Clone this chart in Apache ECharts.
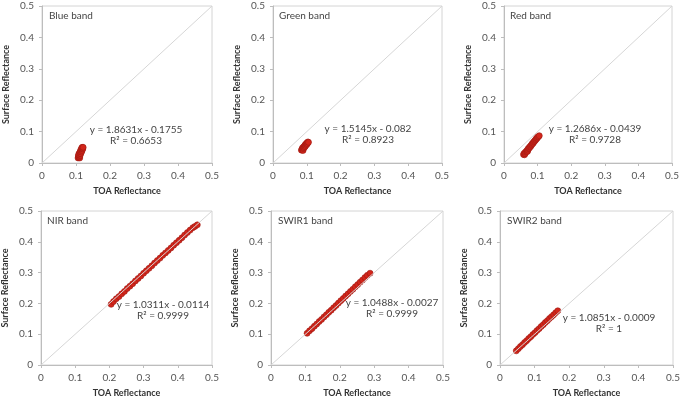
<!DOCTYPE html>
<html>
<head>
<meta charset="utf-8">
<script src="https://cdn.jsdelivr.net/npm/echarts@6/dist/echarts.min.js"></script>
<style>
  html, body { margin: 0; padding: 0; background: #fff; }
  #chart { width: 683px; height: 399px; }
</style>
</head>
<body>
<div id="chart"></div>
<script>
// panel names, regression text, and the points
const bands = ['Blue band', 'Green band', 'Red band', 'NIR band', 'SWIR1 band', 'SWIR2 band'];
const equations = ['y = 1.8631x - 0.1755', 'y = 1.5145x - 0.082', 'y = 1.2686x - 0.0439',
  'y = 1.0311x - 0.0114', 'y = 1.0488x - 0.0027', 'y = 1.0851x - 0.0009'];
const rSquared = ['R² = 0.6653', 'R² = 0.8923', 'R² = 0.9728', 'R² = 0.9999', 'R² = 0.9999', 'R² = 1'];
const oneToOne = [[0, 0], [0.5, 0.5]];

const bluePts = [[0.106, 0.016], [0.108, 0.018], [0.111, 0.016], [0.107, 0.022], [0.110, 0.020],
  [0.109, 0.025], [0.111, 0.028], [0.112, 0.024], [0.108, 0.028], [0.110, 0.031], [0.113, 0.033],
  [0.114, 0.030], [0.112, 0.036], [0.115, 0.038], [0.116, 0.035], [0.114, 0.041], [0.117, 0.043],
  [0.118, 0.040], [0.116, 0.046], [0.119, 0.048], [0.120, 0.045], [0.118, 0.050], [0.121, 0.050]];
const greenPts = [[0.084, 0.041], [0.086, 0.044], [0.088, 0.042], [0.089, 0.040], [0.087, 0.048],
  [0.090, 0.046], [0.090, 0.051], [0.092, 0.049], [0.093, 0.054], [0.095, 0.052], [0.095, 0.058],
  [0.097, 0.056], [0.098, 0.061], [0.100, 0.059], [0.100, 0.064], [0.102, 0.062], [0.103, 0.067],
  [0.105, 0.066]];
const redPts = [[0.058, 0.027], [0.061, 0.026], [0.060, 0.031], [0.063, 0.030], [0.064, 0.035],
  [0.067, 0.036], [0.068, 0.040], [0.070, 0.037], [0.071, 0.041], [0.072, 0.046], [0.075, 0.047],
  [0.076, 0.051], [0.079, 0.052], [0.080, 0.056], [0.083, 0.058], [0.084, 0.062], [0.087, 0.063],
  [0.088, 0.067], [0.091, 0.069], [0.092, 0.072], [0.095, 0.074], [0.096, 0.078], [0.099, 0.079],
  [0.100, 0.083], [0.103, 0.084], [0.105, 0.087]];
const nirPts = [[0.205, 0.197], [0.212, 0.206], [0.220, 0.215], [0.228, 0.222], [0.236, 0.231],
  [0.244, 0.239], [0.252, 0.248], [0.260, 0.256], [0.268, 0.264], [0.276, 0.273], [0.284, 0.281],
  [0.292, 0.289], [0.300, 0.298], [0.308, 0.306], [0.316, 0.314], [0.324, 0.322], [0.332, 0.331],
  [0.340, 0.339], [0.348, 0.347], [0.356, 0.356], [0.364, 0.364], [0.372, 0.372], [0.380, 0.380],
  [0.388, 0.389], [0.396, 0.397], [0.404, 0.405], [0.412, 0.413], [0.420, 0.422], [0.428, 0.430],
  [0.436, 0.438], [0.444, 0.446], [0.450, 0.450], [0.457, 0.455]];
const swir1Pts = [[0.105, 0.103], [0.112, 0.111], [0.119, 0.118], [0.126, 0.126], [0.133, 0.133],
  [0.140, 0.141], [0.147, 0.148], [0.154, 0.156], [0.161, 0.163], [0.168, 0.171], [0.175, 0.178],
  [0.182, 0.186], [0.189, 0.193], [0.196, 0.201], [0.203, 0.209], [0.210, 0.216], [0.217, 0.224],
  [0.224, 0.231], [0.231, 0.239], [0.238, 0.246], [0.245, 0.254], [0.252, 0.261], [0.259, 0.269],
  [0.266, 0.276], [0.273, 0.284], [0.280, 0.291], [0.288, 0.298]];
const swir2Pts = [[0.047, 0.046], [0.053, 0.053], [0.059, 0.060], [0.065, 0.066], [0.071, 0.073],
  [0.077, 0.079], [0.083, 0.086], [0.089, 0.092], [0.095, 0.099], [0.101, 0.105], [0.107, 0.112],
  [0.113, 0.118], [0.119, 0.125], [0.125, 0.131], [0.131, 0.138], [0.137, 0.144], [0.143, 0.151],
  [0.149, 0.157], [0.155, 0.163], [0.161, 0.170], [0.167, 0.176]];
const bandPoints = [bluePts, greenPts, redPts, nirPts, swir1Pts, swir2Pts];

// plot boxes in pixels: left, top, width, height
const boxes = [
  [42, 6, 170, 157], [273, 6, 169, 157], [504, 6, 168, 157],
  [41, 211, 171, 156], [271, 211, 172, 156], [500, 211, 173, 156]
];
// equation text centre (x, y of first line), band label (x, y)
const eqPos = [[136, 135], [368, 134], [595, 134], [163, 310], [392, 308], [609, 323]];
const labelPos = [[49, 17], [279, 17], [510, 17], [47, 222], [278, 222], [507, 222]];

const font = 'Lato, "Liberation Sans", sans-serif';
const ptColor = '#d2261b';

function tickLabel(v) {
  return v === 0 ? '0' : v.toFixed(1);
}

const grid = [], xAxis = [], yAxis = [], series = [], graphic = [];

boxes.forEach((b, i) => {
  grid.push({
    left: b[0], top: b[1], width: b[2], height: b[3],
    show: true, borderColor: '#d4d4d4', borderWidth: 1, backgroundColor: '#fff'
  });
  const axisCommon = {
    gridIndex: i, type: 'value', min: 0, max: 0.5, interval: 0.1,
    nameLocation: 'middle',
    nameTextStyle: { fontFamily: font, fontWeight: 'bold', fontSize: 9, color: '#333' },
    axisLine: { show: true, lineStyle: { color: '#bdbdbd' } },
    axisTick: { show: true, length: 3, lineStyle: { color: '#bdbdbd' } },
    splitLine: { show: false },
    axisLabel: { fontFamily: font, fontSize: 10, color: '#555', formatter: tickLabel }
  };
  xAxis.push(Object.assign({}, axisCommon, { name: 'TOA Reflectance', nameGap: 24 }));
  yAxis.push(Object.assign({}, axisCommon, { name: 'Surface Reflectance', nameGap: 31 }));

  series.push({
    type: 'line', xAxisIndex: i, yAxisIndex: i, data: oneToOne,
    symbol: 'none', silent: true,
    lineStyle: { color: '#d6d6d6', width: 1 }
  });
  series.push({
    type: 'scatter', xAxisIndex: i, yAxisIndex: i, data: bandPoints[i],
    symbolSize: 6,
    itemStyle: { color: ptColor, borderColor: '#9e1a12', borderWidth: 0.6, opacity: 1 }
  });

  graphic.push({
    type: 'text', left: labelPos[i][0], top: labelPos[i][1] - 6,
    style: { text: bands[i], font: '10px ' + font, fill: '#444' }
  });
  graphic.push({
    type: 'text', x: eqPos[i][0], y: eqPos[i][1],
    style: {
      text: equations[i] + '\n' + rSquared[i], font: '10px ' + font, fill: '#444',
      align: 'center', verticalAlign: 'middle', lineHeight: 11
    }
  });
});

const chart = echarts.init(document.getElementById('chart'), null, { renderer: 'canvas' });
chart.setOption({
  animation: false,
  backgroundColor: '#fff',
  grid, xAxis, yAxis, series, graphic
});
</script>
</body>
</html>
